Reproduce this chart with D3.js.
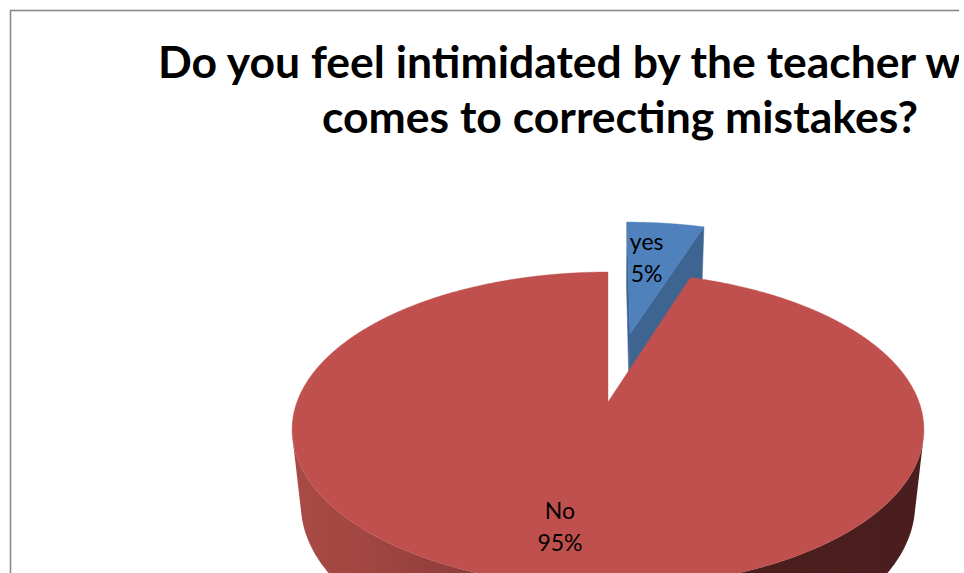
<!DOCTYPE html>
<html><head><meta charset="utf-8">
<script src="https://cdn.jsdelivr.net/npm/d3@7"></script>
<style>html,body{margin:0;padding:0;background:#fff;overflow:hidden}</style>
</head><body>
<svg id="chart" width="964" height="573"></svg>
<script>
// ---- data ----
const categories = ["yes", "No"];
const values = [5, 95];
const percentLabels = ["5%", "95%"];
const titleLines = ["Do you feel intimidated by the teacher when it", "comes to correcting mistakes?"];

// ---- style / layout ----
const W = 964, H = 573;
const topColors = ["#4F81BD", "#C0504D"];
const faceColors = ["#3E6491", "#8E3B38"];
const explode = [0.49, 0];
const thick = 0.28;
const cam = {cx: 608, cy: 402, F: 1549, D: 4.98, sinE: 0.491};
cam.cosE = Math.sqrt(1 - cam.sinE * cam.sinE);

const svg = d3.select("#chart");
svg.append("rect").attr("width", W).attr("height", H).attr("fill", "#fff");
const defs = svg.append("defs");
defs.append("clipPath").attr("id", "crop").append("rect")
  .attr("x", 0).attr("y", 0).attr("width", 959).attr("height", H);

// side gradients
const sideGrad = [
  [["0%", "#4A78AE"], ["100%", "#2C4A6E"]],
  [["0%", "#A94A46"], ["12%", "#A14642"], ["25%", "#933F3C"], ["45%", "#7A3230"], ["60%", "#592625"], ["72%", "#4C1F1F"], ["100%", "#4A1E1E"]]
];
sideGrad.forEach((stops, i) => {
  const lg = defs.append("linearGradient").attr("id", "side" + i)
    .attr("gradientUnits", "userSpaceOnUse")
    .attr("x1", 289).attr("y1", 0).attr("x2", 924).attr("y2", 0);
  stops.forEach(s => lg.append("stop").attr("offset", s[0]).attr("stop-color", s[1]));
});

const g = svg.append("g").attr("clip-path", "url(#crop)");
g.append("rect").attr("x", 10.5).attr("y", 10.5).attr("width", 1400).attr("height", 1000)
  .attr("fill", "none").attr("stroke", "#898989").attr("stroke-width", 1.6);

function project(X, Y, Z) {
  const ry = Y - cam.D * cam.sinE, rz = Z + cam.D * cam.cosE;
  const depth = -ry * cam.sinE + rz * cam.cosE;
  const up = ry * cam.cosE + rz * cam.sinE;
  return [cam.cx + cam.F * X / depth, cam.cy - cam.F * up / depth];
}

const arcs = d3.pie().sort(null).value(d => d)(values);
const line = d3.line();
const step = Math.PI / 720;

arcs.forEach((a, i) => {
  const mid = (a.startAngle + a.endAngle) / 2;
  const ox = explode[i] * Math.sin(mid), oz = explode[i] * Math.cos(mid);
  const P = (r, t, Y) => project(ox + r * Math.sin(t), Y, oz + r * Math.cos(t));
  const sl = g.append("g").attr("class", "slice-" + categories[i]);
  const DC = cam.D * cam.cosE;

  // radial faces
  const faces = [
    {t: a.startAngle, vis: ox * Math.cos(a.startAngle) - Math.sin(a.startAngle) * (DC + oz)},
    {t: a.endAngle, vis: -ox * Math.cos(a.endAngle) + Math.sin(a.endAngle) * (DC + oz)}
  ];
  faces.forEach(f => {
    if (f.vis <= 1e-9) return;
    const pts = [P(0, f.t, 0), P(1, f.t, 0), P(1, f.t, -thick), P(0, f.t, -thick)];
    sl.append("path").attr("d", line(pts) + "Z").attr("fill", faceColors[i])
      .attr("stroke", faceColors[i]).attr("stroke-width", 0.5);
  });

  // outer side (visible runs)
  const runs = [];
  let cur = null;
  for (let t = a.startAngle; t <= a.endAngle + 1e-9; t += step) {
    const tt = Math.min(t, a.endAngle);
    const vis = -1 - ox * Math.sin(tt) - Math.cos(tt) * (DC + oz) > 0;
    if (vis) { if (!cur) { cur = []; runs.push(cur); } cur.push(tt); }
    else cur = null;
  }
  runs.forEach(run => {
    if (run.length < 2) return;
    const pts = run.map(t => P(1, t, 0)).concat(run.slice().reverse().map(t => P(1, t, -thick)));
    sl.append("path").attr("d", line(pts) + "Z").attr("fill", "url(#side" + i + ")");
  });

  // top face
  const topPts = [P(0, 0, 0)];
  for (let t = a.startAngle; t < a.endAngle; t += step) topPts.push(P(1, t, 0));
  topPts.push(P(1, a.endAngle, 0));
  sl.append("path").attr("d", line(topPts) + "Z").attr("fill", topColors[i])
    .attr("stroke", topColors[i]).attr("stroke-width", 0.4);
});

// data labels
const labelR = [0.66, 0.72];
const labelDx = -8;
arcs.forEach((a, i) => {
  const mid = (a.startAngle + a.endAngle) / 2;
  const ox = explode[i] * Math.sin(mid), oz = explode[i] * Math.cos(mid);
  const c = project(ox + labelR[i] * Math.sin(mid), 0, oz + labelR[i] * Math.cos(mid));
  const t = g.append("text").attr("text-anchor", "middle")
    .attr("font-family", "Lato, 'Open Sans', sans-serif").attr("font-size", 23).attr("fill", "#000");
  t.append("tspan").attr("x", c[0] + labelDx).attr("y", c[1] - 7.5).text(categories[i]);
  t.append("tspan").attr("x", c[0] + labelDx).attr("y", c[1] - 7.5 + 32).text(percentLabels[i]);
});

// title
const title = g.append("g").attr("font-family", "Lato, 'Open Sans', sans-serif").attr("font-weight", 700).attr("fill", "#000");
const t2 = title.append("text").attr("x", 322).attr("y", 133).attr("font-size", 40).text(titleLines[1]);
const fs = 40 * 596 / t2.node().getComputedTextLength();
t2.attr("font-size", fs);
title.append("text").attr("x", 158).attr("y", 78).attr("font-size", fs).text(titleLines[0]);
</script>
</body></html>
